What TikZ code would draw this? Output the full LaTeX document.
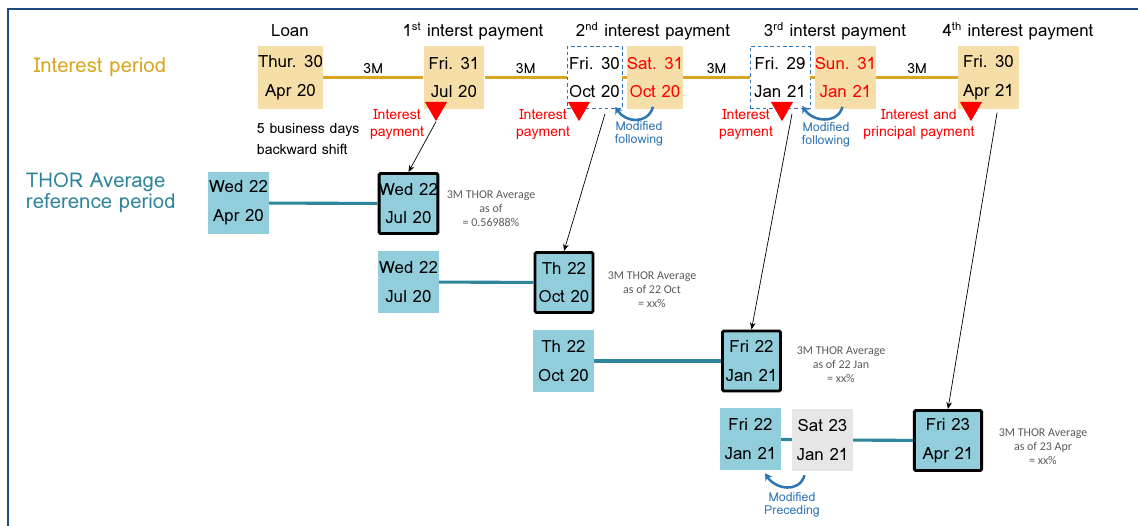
\documentclass[tikz,border=0pt]{standalone}
\usepackage{fontspec}
\setmainfont{Loma}
\newfontfamily\calfont{Carlito}
\usetikzlibrary{arrows.meta,shapes.geometric}
\definecolor{periodgold}{RGB}{218,165,32}
\definecolor{loantan}{RGB}{245,222,168}
\definecolor{thorteal}{RGB}{49,133,155}
\definecolor{thorblue}{RGB}{146,205,220}
\definecolor{modblue}{RGB}{46,117,182}
\definecolor{framenavy}{RGB}{31,73,125}
\definecolor{satgray}{RGB}{230,230,230}
\definecolor{notegray}{RGB}{90,90,90}

\begin{document}
\begin{tikzpicture}[x=0.025cm,y=-0.025cm,
    datebox/.style={minimum width=1.52cm,minimum height=1.55cm,inner sep=0pt,align=center,
        font=\fontsize{12}{20.5}\selectfont},
    loanbox/.style={datebox,fill=loantan},
    holbox/.style={loanbox,text=red,minimum width=1.4cm},
    adjbox/.style={datebox,draw=modblue,dash pattern=on 2.5pt off 2pt,fill=white,minimum width=1.4cm},
    thorbox/.style={datebox,fill=thorblue},
    fixbox/.style={thorbox,draw=black,line width=2.1pt,rounded corners=1pt,
        minimum width=1.45cm,minimum height=1.5cm},
    title/.style={font=\fontsize{12}{14}\selectfont},
    months/.style={above,text=black,inner sep=2pt,font=\fontsize{10}{12}\selectfont},
    period/.style={periodgold,line width=2.2pt},
    refline/.style={thorteal,line width=2.2pt},
    paylabel/.style={text=red,align=center,font=\fontsize{10}{12}\selectfont},
    modlabel/.style={text=modblue,align=center,font=\fontsize{8.8}{9.4}\selectfont},
    modarrow/.style={modblue,line width=1.8pt,-{Stealth[length=5pt,width=6pt]}},
    tri/.style={regular polygon,regular polygon sides=3,shape border rotate=180,
        fill=red,inner sep=0pt,minimum size=0.64cm},
    ptr/.style={line width=0.5pt,-{Stealth[length=5pt,width=4pt]}},
    note/.style={text=notegray,align=center,font=\calfont\fontsize{8.5}{10}\selectfont}]

    \useasboundingbox (0,0) rectangle (1138,526);
    \draw[framenavy,line width=1.8pt] (8,526) -- (8,9) -- (1138,9);

    \node[text=periodgold,font=\fontsize{14.5}{16}\selectfont] (iplabel) at (100,67) {Interest period};
    \node[text=thorteal,anchor=west,align=left,font=\fontsize{14.5}{15}\selectfont] (rplabel) at (21,192.5)
        {THOR Average\\reference period};

    \node[title] (h0) at (290,31) {Loan};
    \node[title] (h1) at (473,31) {1\textsuperscript{st} interst payment};
    \node[title] (h2) at (653,31) {2\textsuperscript{nd} interest payment};
    \node[title] (h3) at (835,31) {3\textsuperscript{rd} interst payment};
    \node[title] (h4) at (1018,31) {4\textsuperscript{th} interest payment};

    \node[loanbox] (loan) at (290.5,77.5) {Thur. 30\\Apr 20};
    \node[loanbox] (pay1) at (454,77.5) {Fri. 31\\Jul 20};
    \node[adjbox,minimum width=1.375cm] (adj2) at (594.5,77.5) {Fri. 30\\Oct 20};
    \node[holbox] (hol2) at (655,77.5) {Sat. 31\\Oct 20};
    \node[adjbox,minimum width=1.5cm] (adj3) at (780,77.5) {Fri. 29\\Jan 21};
    \node[holbox,minimum width=1.52cm] (hol3) at (845.5,77.5) {Sun. 31\\Jan 21};
    \node[loanbox] (pay4) at (988.5,77.5) {Fri. 30\\Apr 21};

    \foreach \a/\b/\m in {loan/pay1/3M,pay1/adj2/3M,adj2/hol2/,hol2/adj3/3M,adj3/hol3/,hol3/pay4/3M}
        \draw[period] (\a) -- node[months] {\m} (\b);

    \node[tri] (t1) at (436,108.3) {};
    \node[tri] (t2) at (579,108.3) {};
    \node[tri] (t3) at (782,108.3) {};
    \node[tri] (t4) at (971,108.3) {};

    \node[paylabel] (p1) at (397,124.5) {Interest\\payment};
    \node[paylabel] (p2) at (543,124.5) {Interest\\payment};
    \node[paylabel] (p3) at (746,124.5) {Interest\\payment};
    \node[paylabel] (p4) at (919,124.5) {Interest and\\principal payment};

    \draw[modarrow] ([shift={(-2,-2)}]hol2.south) .. controls +(-5,18) and +(10,16) .. ([shift={(-7,-2)}]adj2.south east);
    \draw[modarrow] ([shift={(-3,-2)}]hol3.south) .. controls +(-5,18) and +(10,16) .. ([shift={(-8,-3)}]adj3.south east);
    \node[modlabel] (mf2) at (639,133.5) {Modified\\following};
    \node[modlabel] (mf3) at (826,134.5) {Modified\\following};

    \node[anchor=west,align=left,font=\fontsize{10}{15.6}\selectfont] (shift) at (252,139)
        {5 business days\\backward shift};

    \node[thorbox] (ref0) at (238.5,203) {Wed 22\\Apr 20};
    \node[fixbox] (fix1) at (408.5,203.5) {Wed 22\\Jul 20};
    \node[thorbox] (ref1) at (408.5,282) {Wed 22\\Jul 20};
    \node[fixbox] (fix2) at (564,282.5) {Th 22\\Oct 20};
    \node[thorbox] (ref2) at (563.5,361) {Th 22\\Oct 20};
    \node[fixbox] (fix3) at (751.5,361) {Fri 22\\Jan 21};
    \node[thorbox] (ref3) at (750.5,439) {Fri 22\\Jan 21};
    \node[datebox,fill=satgray] (sat) at (822.5,440) {Sat 23\\Jan 21};
    \node[fixbox,minimum width=1.68cm] (fix4) at (948,440.5) {Fri 23\\Apr 21};

    \draw[refline] (ref0) -- (fix1);
    \draw[refline] (ref1) -- (fix2);
    \draw[refline] (ref2) -- (fix3);
    \draw[refline] (ref3) -- (sat);
    \draw[refline] (sat) -- (fix4);

    \draw[modarrow] ([shift={(-18,4)}]sat.south) .. controls +(-5,18) and +(10,16) .. ([shift={(-16,3)}]ref3.south east);
    \node[modlabel] (mp) at (792,504.5) {Modified\\Preceding};

    \node[note] (n1) at (491,209) {3M THOR Average\\as of\\= 0.56988\%};
    \node[note] (n2) at (652,290) {3M THOR Average\\as of 22 Oct\\= xx\%};
    \node[note] (n3) at (841,365) {3M THOR Average\\as of 22 Jan\\= xx\%};
    \node[note] (n4) at (1043,447) {3M THOR Average\\as of 23 Apr\\= xx\%};

    \draw[ptr] (t1.south) -- (fix1.north);
    \draw[ptr] ([shift={(10.5,5)}]adj2.south) -- (fix2.north);
    \draw[ptr] ([shift={(12,5)}]adj3.south) -- (fix3.north);
    \draw[ptr] ([shift={(8.5,4)}]pay4.south) -- (fix4.north);
\end{tikzpicture}
\end{document}
